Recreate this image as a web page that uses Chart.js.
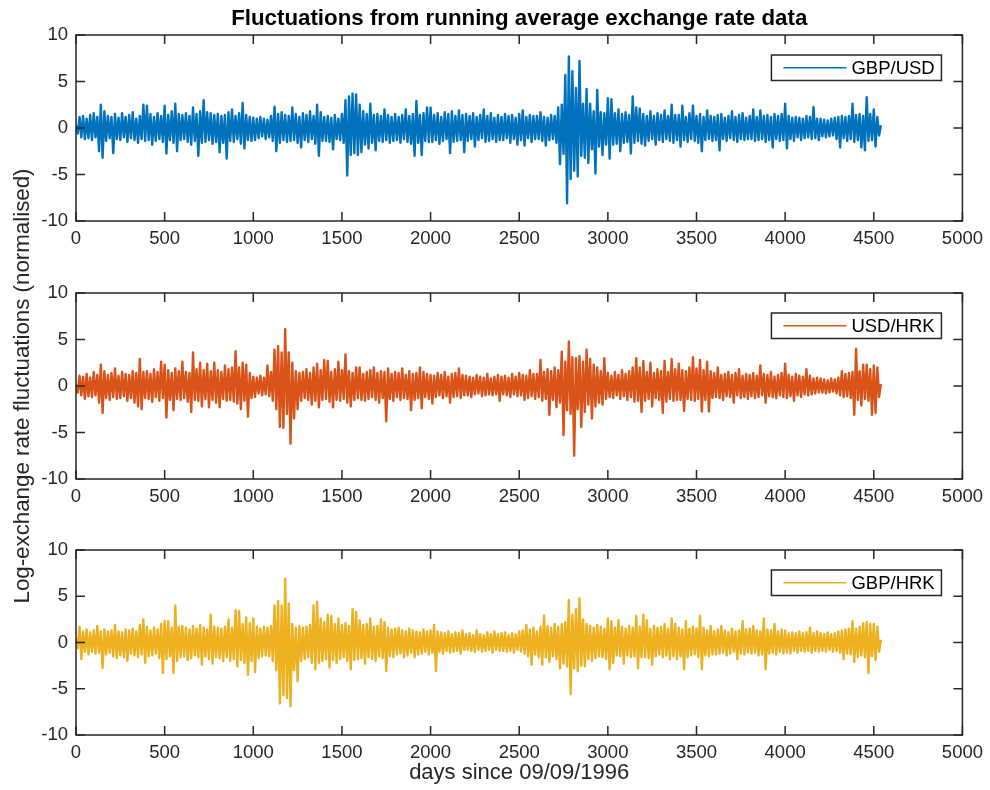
<!DOCTYPE html>
<html>
<head>
<meta charset="utf-8">
<script src="https://cdn.jsdelivr.net/npm/chart.js@4.4.1/dist/chart.umd.min.js"></script>
<style>
  html, body { margin: 0; padding: 0; background: #fff; }
  #wrap { position: relative; width: 990px; height: 790px; overflow: hidden; }
  .panel { position: absolute; left: 0; width: 990px; }
</style>
</head>
<body>
<div id="wrap">
  <div class="panel" style="top:0;height:260px"><canvas id="c1"></canvas></div>
  <div class="panel" style="top:520px;height:270px"><canvas id="c3"></canvas></div>
  <div class="panel" style="top:130px;height:520px"><canvas id="c2"></canvas></div>
</div>
<script>
// one reading every 10 days, alternating the upper and lower edge of the trace
const STEP = 10

const xTicks = [0, 500, 1000, 1500, 2000, 2500, 3000, 3500, 4000, 4500, 5000]
const yTicks = [-10, -5, 0, 5, 10]

const gbpUsd = [
  0.3, -0.6, 1.2, -1.0, 1.3, -1.2, 1.0, -1.1, 1.4, -1.3, 1.6, -1.0, 1.2, -2.5, 2.5, -3.2, 1.8, -1.4, 1.3, -1.1,
  1.2, -2.7, 1.5, -1.2, 1.1, -1.3, 1.6, -1.0, 1.2, -1.5, 1.4, -1.1, 1.7, -1.3, 1.0, -1.6, 1.3, -1.2, 2.5, -1.4,
  2.4, -1.3, 1.5, -1.8, 1.2, -1.4, 1.6, -1.2, 1.3, -1.5, 2.4, -2.75, 1.4, -1.3, 1.8, -1.6, 2.6, -2.5, 1.5, -1.3,
  1.4, -1.2, 1.6, -1.5, 1.3, -1.8, 2.2, -1.4, 1.5, -3.0, 1.8, -1.6, 3.0, -1.5, 1.7, -1.3, 1.6, -1.7, 1.4, -1.5,
  1.5, -2.6, 1.3, -1.6, 1.4, -3.3, 1.7, -1.4, 2.0, -1.5, 1.3, -1.2, 1.6, -1.7, 2.7, -2.2, 1.4, -1.3, 1.2, -1.4,
  1.1, -1.3, 1.0, -1.1, 1.2, -0.9, 1.0, -1.2, 0.9, -1.0, 1.3, -1.4, 2.3, -2.5, 1.5, -1.6, 1.7, -1.3, 1.4, -1.5,
  1.3, -1.4, 2.2, -1.3, 1.5, -1.6, 1.2, -2.1, 1.6, -1.3, 1.4, -1.5, 1.8, -1.2, 1.3, -1.7, 2.5, -3.0, 1.7, -1.4,
  1.2, -1.4, 1.3, -1.5, 1.1, -2.3, 1.4, -1.2, 1.0, -1.3, 1.5, -1.6, 3.0, -5.1, 3.4, -2.9, 3.7, -2.7, 3.6, -2.9,
  2.5, -2.6, 1.8, -1.8, 1.5, -2.2, 2.6, -1.6, 1.4, -2.4, 1.5, -1.4, 1.3, -1.5, 2.0, -1.3, 1.4, -1.6, 1.2, -1.4,
  1.5, -1.3, 1.2, -1.6, 1.4, -1.2, 2.0, -1.5, 1.3, -1.7, 1.5, -3.0, 2.9, -1.6, 1.4, -2.9, 1.6, -1.4, 2.2, -1.5,
  2.2, -1.5, 1.4, -1.3, 1.6, -1.7, 1.2, -1.4, 1.7, -1.2, 1.5, -2.7, 1.8, -1.5, 1.3, -1.4, 1.9, -1.3, 1.4, -2.6,
  1.5, -1.4, 1.3, -1.2, 1.6, -2.0, 1.2, -1.3, 1.4, -1.1, 2.0, -1.5, 1.3, -1.4, 1.6, -1.2, 1.1, -1.5, 1.4, -1.3,
  1.2, -1.3, 1.5, -1.1, 1.3, -1.6, 1.4, -1.2, 1.1, -1.8, 1.5, -1.3, 1.9, -1.9, 1.2, -1.1, 1.4, -1.5, 1.3, -1.2,
  1.3, -1.2, 1.7, -1.4, 1.2, -1.9, 1.1, -1.3, 1.4, -1.2, 1.3, -1.6, 2.2, -3.9, 2.5, -2.8, 5.7, -8.1, 7.7, -5.5,
  6.1, -4.6, 4.3, -5.2, 7.2, -3.0, 2.6, -3.2, 4.2, -3.75, 2.6, -2.3, 1.8, -4.9, 4.1, -2.0, 1.7, -2.9, 1.6, -1.8,
  3.2, -3.3, 3.1, -1.8, 1.6, -1.7, 2.0, -2.5, 1.5, -1.6, 1.7, -1.5, 1.4, -2.75, 3.4, -1.6, 2.2, -1.4, 2.1, -1.7,
  1.5, -1.9, 1.3, -1.4, 1.8, -1.2, 1.3, -1.8, 1.6, -1.3, 1.4, -1.5, 1.9, -1.2, 1.3, -1.4, 2.5, -1.6, 1.4, -1.3,
  1.4, -2.0, 2.4, -1.3, 1.2, -1.5, 1.6, -1.2, 2.4, -1.4, 1.3, -1.6, 1.5, -2.5, 1.2, -1.3, 1.9, -1.2, 1.3, -1.4,
  1.2, -1.3, 1.4, -2.4, 1.5, -1.2, 1.1, -1.4, 1.3, -1.1, 1.8, -1.3, 1.2, -1.5, 1.4, -1.2, 1.6, -1.3, 1.1, -1.2,
  1.3, -1.2, 2.0, -1.4, 1.2, -1.3, 1.9, -1.2, 1.3, -1.5, 1.4, -1.3, 1.2, -2.1, 1.5, -1.2, 1.3, -1.4, 1.5, -1.3,
  2.6, -2.2, 1.3, -1.2, 1.1, -1.4, 1.2, -1.0, 1.1, -1.3, 1.0, -1.1, 1.3, -1.0, 1.2, -1.2, 2.25, -1.1, 1.0, -1.3,
  1.0, -0.9, 0.9, -1.0, 0.8, -0.9, 1.0, -0.8, 1.1, -1.2, 1.2, -2.1, 1.3, -1.1, 1.2, -1.4, 1.3, -1.2, 2.6, -1.5,
  1.4, -1.3, 1.5, -2.1, 1.3, -2.4, 3.3, -1.4, 1.5, -1.3, 2.0, -2.0, 1.2, -0.8, 0.3
]

const usdHrk = [
  0.2, -0.7, 1.1, -1.0, 1.0, -1.4, 1.3, -1.1, 0.9, -1.2, 1.5, -1.0, 1.2, -1.8, 2.3, -2.9, 1.6, -1.3, 1.2, -1.5,
  1.4, -1.2, 1.9, -1.4, 1.1, -1.3, 1.5, -1.1, 1.3, -1.6, 1.2, -1.3, 1.6, -1.8, 1.4, -2.2, 2.9, -2.5, 1.5, -1.3,
  1.6, -1.4, 1.3, -1.7, 1.8, -1.2, 1.5, -1.6, 2.6, -1.3, 2.3, -3.4, 1.7, -1.5, 1.4, -2.6, 1.9, -1.4, 1.6, -1.5,
  2.6, -1.3, 1.5, -1.7, 1.4, -2.8, 3.6, -1.5, 1.8, -1.6, 2.5, -2.2, 1.7, -1.4, 2.4, -2.3, 1.6, -1.5, 2.5, -1.8,
  1.7, -2.3, 1.5, -1.4, 2.2, -1.6, 1.8, -1.5, 2.0, -1.7, 3.75, -1.9, 2.0, -2.5, 2.5, -1.6, 2.3, -3.3, 1.4, -1.3,
  1.0, -1.2, 0.9, -0.8, 1.1, -1.0, 0.9, -0.9, 2.2, -1.1, 1.5, -1.6, 3.9, -2.5, 4.3, -4.4, 3.6, -4.5, 6.1, -3.0,
  3.6, -6.2, 2.5, -3.5, 1.6, -2.5, 1.4, -1.6, 1.5, -1.3, 1.8, -1.5, 1.4, -2.0, 2.0, -1.6, 2.4, -2.3, 1.7, -1.5,
  2.8, -1.4, 2.7, -1.7, 1.5, -2.3, 1.8, -1.5, 2.6, -1.6, 1.7, -1.4, 3.4, -1.8, 1.6, -2.2, 1.4, -1.5, 2.0, -1.3,
  2.0, -1.5, 1.3, -1.6, 1.5, -1.4, 1.7, -1.2, 2.0, -1.5, 1.4, -1.8, 1.6, -1.3, 1.5, -3.8, 1.9, -1.4, 1.3, -1.6,
  1.5, -1.2, 1.4, -1.5, 1.9, -1.3, 1.2, -1.4, 1.6, -2.6, 1.3, -1.5, 1.4, -1.3, 2.0, -2.4, 1.5, -1.2, 1.3, -1.4,
  1.2, -1.9, 1.1, -1.2, 1.4, -1.0, 1.2, -1.3, 1.5, -1.1, 1.0, -1.8, 1.3, -1.2, 1.4, -1.1, 1.9, -1.3, 1.2, -1.0,
  1.1, -1.0, 1.0, -1.2, 0.9, -0.9, 1.2, -0.8, 1.0, -1.1, 0.9, -1.0, 1.3, -0.9, 0.8, -1.0, 1.0, -0.9, 1.2, -1.6,
  1.0, -0.9, 1.1, -1.0, 0.9, -1.2, 1.3, -0.9, 1.0, -1.1, 1.4, -1.0, 1.2, -1.5, 1.1, -1.3, 1.7, -1.1, 1.3, -1.4,
  1.3, -1.2, 2.8, -1.6, 1.5, -1.4, 1.8, -3.1, 1.6, -1.5, 2.0, -2.3, 1.7, -1.8, 3.7, -5.3, 2.6, -2.6, 4.8, -3.0,
  3.1, -7.5, 3.0, -2.5, 3.2, -4.4, 2.6, -2.8, 3.9, -2.0, 2.9, -3.5, 2.3, -2.2, 2.0, -1.8, 1.6, -2.0, 3.0, -1.4,
  1.4, -1.2, 1.1, -1.3, 1.5, -1.0, 1.2, -1.4, 1.7, -1.1, 1.3, -1.5, 1.6, -1.2, 2.0, -1.7, 3.0, -1.6, 2.0, -2.8,
  2.7, -1.6, 1.5, -1.4, 2.5, -2.2, 1.4, -1.3, 1.8, -1.5, 1.6, -2.9, 2.7, -1.7, 1.5, -1.4, 2.9, -1.6, 1.8, -1.5,
  2.4, -1.5, 1.7, -2.7, 1.6, -1.4, 2.0, -1.5, 3.1, -1.6, 1.9, -1.4, 2.8, -2.75, 1.7, -1.5, 2.6, -2.75, 1.6, -1.3,
  1.4, -1.2, 2.0, -1.3, 1.2, -1.5, 1.3, -1.1, 1.5, -1.2, 1.2, -1.8, 1.4, -1.0, 1.8, -1.3, 1.1, -1.2, 1.3, -1.4,
  1.2, -1.1, 1.4, -1.3, 1.1, -1.2, 2.2, -1.0, 1.3, -1.8, 1.2, -1.1, 1.5, -1.2, 1.0, -1.3, 1.2, -1.0, 1.4, -1.2,
  2.4, -1.3, 1.2, -1.1, 1.0, -1.6, 1.3, -1.0, 1.1, -1.2, 1.0, -0.9, 1.8, -1.0, 1.1, -0.9, 0.8, -0.8, 0.9, -0.7,
  0.8, -0.7, 0.7, -0.8, 0.6, -0.7, 0.8, -0.6, 0.7, -0.8, 0.9, -1.0, 1.6, -1.2, 1.3, -1.1, 1.4, -1.3, 1.5, -3.1,
  4.0, -1.5, 1.6, -2.1, 2.3, -1.4, 2.3, -1.6, 1.8, -3.1, 2.2, -2.9, 2.0, -1.2, 0.2
]

const gbpHrk = [
  0.5, -0.6, 1.7, -1.8, 1.2, -1.0, 1.4, -1.3, 1.1, -1.0, 1.3, -1.2, 1.8, -1.1, 1.2, -2.75, 1.4, -1.3, 1.2, -1.1,
  1.3, -1.5, 1.9, -1.7, 1.2, -1.4, 1.1, -1.6, 1.4, -2.0, 1.3, -1.2, 1.5, -1.4, 1.2, -1.6, 1.9, -1.3, 2.5, -2.2,
  1.7, -1.5, 1.3, -1.4, 1.6, -1.2, 1.4, -1.7, 2.0, -3.3, 2.3, -1.8, 2.3, -1.5, 1.6, -3.3, 4.0, -2.0, 1.7, -1.6,
  1.8, -1.5, 1.6, -1.9, 1.4, -1.7, 1.8, -1.4, 1.5, -1.6, 1.9, -2.4, 1.6, -1.5, 1.4, -1.8, 3.0, -2.3, 1.7, -1.6,
  1.6, -1.7, 1.5, -2.0, 1.7, -1.6, 2.5, -2.0, 1.6, -1.8, 3.5, -2.6, 3.4, -1.9, 2.0, -2.2, 2.7, -3.5, 2.1, -2.0,
  2.6, -3.2, 1.7, -1.7, 1.5, -1.5, 1.7, -1.4, 1.6, -1.5, 1.8, -2.0, 4.0, -3.0, 4.5, -6.6, 4.0, -5.7, 6.9, -6.0,
  4.2, -6.9, 2.0, -3.0, 1.6, -4.2, 1.8, -2.0, 1.6, -1.8, 1.7, -1.6, 1.9, -2.2, 4.0, -2.9, 4.4, -2.2, 2.6, -2.0,
  2.2, -1.8, 3.0, -2.7, 2.9, -1.9, 2.0, -2.2, 2.6, -1.8, 1.9, -1.6, 2.1, -2.0, 1.8, -2.9, 3.6, -1.9, 3.3, -1.8,
  2.4, -1.7, 1.9, -2.3, 2.0, -1.6, 2.6, -1.8, 1.7, -2.0, 1.8, -1.5, 2.5, -1.7, 2.2, -3.1, 1.6, -1.5, 1.4, -1.6,
  1.5, -1.3, 1.6, -1.2, 1.3, -1.6, 1.2, -1.4, 1.5, -1.1, 1.3, -1.6, 1.2, -1.3, 1.1, -1.2, 1.4, -1.0, 1.2, -1.3,
  1.3, -1.1, 1.9, -3.1, 1.2, -1.0, 1.1, -1.2, 1.0, -0.9, 1.2, -1.1, 0.9, -1.0, 1.1, -0.9, 1.0, -1.2, 1.3, -0.8,
  0.9, -0.8, 1.0, -0.9, 0.8, -1.0, 1.3, -0.8, 0.9, -1.0, 0.8, -0.9, 1.1, -0.8, 0.9, -1.1, 1.2, -0.8, 0.9, -0.9,
  1.0, -0.9, 1.1, -1.0, 0.8, -0.9, 1.0, -1.1, 0.9, -0.8, 1.2, -1.0, 1.3, -1.2, 1.9, -1.5, 1.4, -2.4, 1.6, -1.3,
  1.2, -1.6, 1.7, -2.4, 2.9, -1.6, 1.8, -2.1, 1.6, -1.5, 2.0, -1.8, 1.7, -2.8, 2.0, -2.3, 2.2, -2.6, 4.6, -5.6,
  3.0, -2.8, 3.6, -3.1, 4.75, -2.5, 2.5, -2.6, 2.0, -1.8, 1.8, -2.0, 1.6, -1.7, 1.9, -1.5, 1.7, -1.6, 1.5, -1.8,
  2.6, -2.9, 2.3, -2.2, 1.6, -1.4, 2.4, -1.5, 1.7, -2.3, 1.5, -1.4, 1.8, -1.6, 1.6, -1.5, 2.9, -2.8, 1.7, -1.6,
  3.0, -1.6, 2.4, -1.7, 1.5, -2.4, 1.8, -1.5, 1.6, -1.3, 1.7, -1.6, 2.0, -1.4, 1.5, -1.8, 2.6, -1.5, 2.0, -1.8,
  1.6, -1.5, 1.4, -2.9, 2.3, -1.6, 1.5, -1.4, 1.7, -1.3, 1.5, -1.6, 2.9, -2.9, 1.6, -1.4, 1.3, -1.5, 1.8, -1.3,
  1.2, -1.3, 1.4, -1.2, 1.8, -1.1, 1.3, -1.4, 1.1, -1.2, 1.5, -1.0, 1.2, -1.8, 1.3, -1.2, 2.3, -1.3, 1.4, -1.1,
  1.5, -1.2, 1.8, -1.1, 1.3, -1.4, 1.2, -1.3, 2.6, -2.9, 1.4, -1.2, 1.3, -1.1, 2.0, -1.3, 1.2, -1.0, 1.4, -1.2,
  1.3, -1.1, 1.0, -1.2, 1.1, -0.9, 1.0, -1.1, 1.2, -0.9, 1.0, -1.0, 1.1, -0.9, 1.6, -1.1, 1.0, -0.9, 1.2, -1.0,
  1.0, -0.9, 0.9, -1.0, 1.1, -0.8, 0.9, -1.0, 1.0, -0.9, 1.2, -1.1, 1.3, -1.8, 1.4, -1.2, 1.5, -1.3, 2.3, -2.1,
  1.5, -1.6, 1.7, -1.4, 2.1, -1.6, 2.2, -3.3, 2.0, -1.5, 2.0, -1.9, 1.7, -1.0, 0.3
]

const FONT = '"Liberation Sans", Arial, Helvetica, sans-serif'
const INK = '#262626'
Chart.defaults.font.family = FONT
Chart.defaults.font.size = 18.5
Chart.defaults.color = INK

// MATLAB style box: inward ticks on all four sides, boxed legend, title
const axesBox = {
  id: 'axesBox',
  afterDraw(chart, args, opts) {
    const { ctx, chartArea: a, scales } = chart
    ctx.save()
    ctx.strokeStyle = INK
    ctx.lineWidth = 1.5
    ctx.beginPath()
    scales.x.ticks.forEach(t => {
      const px = scales.x.getPixelForValue(t.value)
      ctx.moveTo(px, a.bottom); ctx.lineTo(px, a.bottom - 9)
      ctx.moveTo(px, a.top); ctx.lineTo(px, a.top + 9)
    })
    scales.y.ticks.forEach(t => {
      const py = scales.y.getPixelForValue(t.value)
      ctx.moveTo(a.left, py); ctx.lineTo(a.left + 9, py)
      ctx.moveTo(a.right, py); ctx.lineTo(a.right - 9, py)
    })
    ctx.stroke()
    ctx.strokeRect(a.left, a.top, a.right - a.left, a.bottom - a.top)

    // legend
    const bx = a.right - 191, by = a.top + 20, bw = 170, bh = 25.5
    ctx.fillStyle = '#fff'
    ctx.fillRect(bx, by, bw, bh)
    ctx.strokeRect(bx, by, bw, bh)
    ctx.strokeStyle = opts.color
    ctx.lineWidth = 1.5
    ctx.beginPath()
    ctx.moveTo(bx + 12, by + bh / 2); ctx.lineTo(bx + 75, by + bh / 2)
    ctx.stroke()
    ctx.fillStyle = '#000'
    ctx.font = '18.5px ' + FONT
    ctx.textBaseline = 'middle'
    ctx.textAlign = 'left'
    ctx.fillText(opts.name, bx + 80, by + bh / 2 + 1)

    if (opts.title) {
      ctx.font = 'bold 22.3px ' + FONT
      ctx.textAlign = 'center'
      ctx.fillText(opts.title, (a.left + a.right) / 2, a.top - 16)
    }
    ctx.restore()
  }
}

function panel(id, values, color, name, cfg) {
  const days = values.map((_, i) => i * STEP)
  return new Chart(document.getElementById(id), {
    type: 'line',
    data: {
      labels: days,
      datasets: [{
        label: name,
        data: values,
        borderColor: color,
        borderWidth: 2.4,
        borderJoinStyle: 'round',
        pointRadius: 0,
        pointHoverRadius: 0,
        tension: 0
      }]
    },
    options: {
      responsive: true,
      maintainAspectRatio: false,
      animation: false,
      events: [],
      layout: { padding: { top: cfg.top, right: 27, bottom: cfg.bottom, left: 0 } },
      plugins: {
        legend: { display: false },
        tooltip: { enabled: false },
        axesBox: { name: name, color: color, title: cfg.title }
      },
      scales: {
        x: {
          type: 'linear',
          min: 0,
          max: 5000,
          afterBuildTicks: s => { s.ticks = xTicks.map(v => ({ value: v })) },
          afterFit: s => { s.height = cfg.xh },
          grid: { display: false, drawTicks: false },
          border: { display: false },
          ticks: { padding: 7, maxRotation: 0, autoSkip: false, color: INK, callback: v => String(v) },
          title: cfg.xlabel
            ? { display: true, text: cfg.xlabel, color: INK, font: { size: 22 }, padding: { top: 0, bottom: 4 } }
            : { display: false }
        },
        y: {
          min: -10,
          max: 10,
          afterBuildTicks: s => { s.ticks = yTicks.map(v => ({ value: v })) },
          afterFit: s => { s.width = 76 },
          grid: { display: false, drawTicks: false },
          border: { display: false },
          ticks: { padding: 8, color: INK, callback: v => String(v) },
          title: cfg.ylabel
            ? { display: true, text: cfg.ylabel, color: INK, font: { size: 22.3 }, padding: { top: 9, bottom: 0 } }
            : { display: false }
        }
      }
    },
    plugins: [axesBox]
  })
}

panel('c1', gbpUsd, '#0072BD', 'GBP/USD', {
  top: 35, bottom: 0, xh: 39,
  title: 'Fluctuations from running average exchange rate data'
})
panel('c2', usdHrk, '#D95319', 'USD/HRK', {
  top: 163, bottom: 130, xh: 41,
  ylabel: 'Log-exchange rate fluctuations (normalised)'
})
panel('c3', gbpHrk, '#EDB120', 'GBP/HRK', {
  top: 30, bottom: 0, xh: 55,
  xlabel: 'days since 09/09/1996'
})
</script>
</body>
</html>
